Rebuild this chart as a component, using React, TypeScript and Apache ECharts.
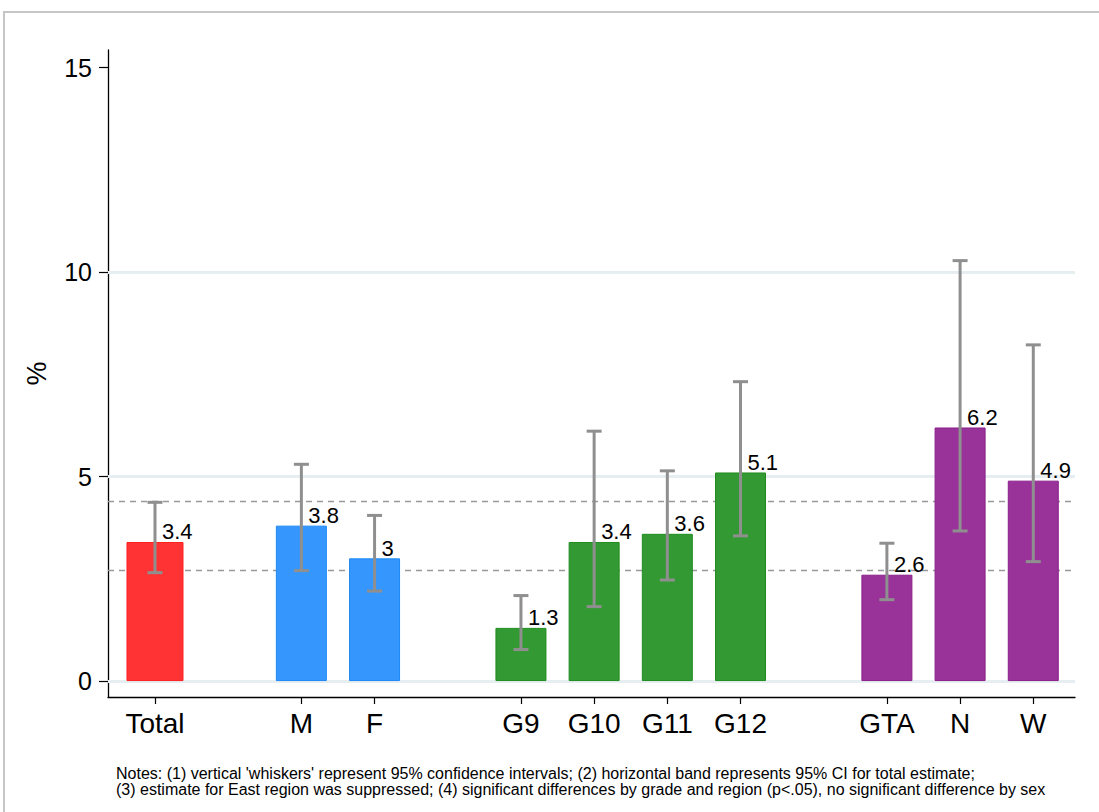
import React, { useEffect, useRef } from 'react';
import * as echarts from 'echarts';

// Slots along the x axis (blank entries are the gaps between groups)
const categories = ['Total', '', 'M', 'F', '', 'G9', 'G10', 'G11', 'G12', '', 'GTA', 'N', 'W'];
const groups = ['total', '', 'sex', 'sex', '', 'grade', 'grade', 'grade', 'grade', '', 'region', 'region', 'region'];
const estimates = [3.4, null, 3.8, 3.0, null, 1.3, 3.4, 3.6, 5.1, null, 2.6, 6.2, 4.9];
const ciLow = [2.65, null, 2.7, 2.2, null, 0.77, 1.82, 2.47, 3.55, null, 1.99, 3.67, 2.92];
const ciHigh = [4.37, null, 5.3, 4.05, null, 2.09, 6.11, 5.14, 7.32, null, 3.37, 10.28, 8.22];
const totalBand = [2.7, 4.4];
const yTicks = [0, 5, 10, 15];
const yGridLines = [0, 5, 10];
const notes = [
  "Notes: (1) vertical 'whiskers' represent 95% confidence intervals; (2) horizontal band represents 95% CI for total estimate;",
  '(3) estimate for East region was suppressed; (4) significant differences by grade and region (p<.05), no significant difference by sex',
];

const FONT = "'Liberation Sans', Arial, Helvetica, sans-serif";
const fillColors: Record<string, string> = {
  total: '#ff3333',
  sex: '#3597fe',
  grade: '#339933',
  region: '#993399',
};
const borderColors: Record<string, string> = {
  total: '#ff1f1f',
  sex: '#1e88f5',
  grade: '#1f8c1f',
  region: '#8a1f8a',
};

export default function App() {
  const ref = useRef<HTMLDivElement>(null);

  useEffect(() => {
    if (!ref.current) return;
    const chart = echarts.init(ref.current, undefined, { renderer: 'svg' });

    const tickPositions: number[] = [];
    categories.forEach((c, i) => {
      if (c) tickPositions.push(i);
    });

    const mkBar = (i: number) => ({
      value: [i, estimates[i]],
      itemStyle: { color: fillColors[groups[i]], borderColor: borderColors[groups[i]], borderWidth: 1 },
    });

    const mainBars = categories
      .map((c, i) => (c && groups[i] !== 'total' ? mkBar(i) : null))
      .filter((d) => d !== null);
    const totalBars = categories
      .map((c, i) => (c && groups[i] === 'total' ? mkBar(i) : null))
      .filter((d) => d !== null);

    const whiskers = categories
      .map((c, i) => (c && ciLow[i] != null ? [i, ciLow[i], ciHigh[i]] : null))
      .filter((d) => d !== null);

    const barLabel = {
      show: true,
      position: ['50%', 0],
      align: 'left',
      verticalAlign: 'bottom',
      offset: [7, 1],
      fontSize: 22,
      fontFamily: FONT,
      color: '#000',
      formatter: (p: any) => String(p.value[1]),
    };

    const xMin = -0.642;
    const xMax = 12.57;

    const option: any = {
      animation: false,
      backgroundColor: '#fff',
      textStyle: { fontFamily: FONT },
      grid: { left: 108, top: 50, width: 967, height: 647, containLabel: false },
      xAxis: [
        {
          type: 'value',
          min: xMin,
          max: xMax,
          axisLine: { show: true, onZero: false, lineStyle: { color: '#000', width: 1.3 } },
          axisTick: {
            show: true,
            length: 7,
            customValues: tickPositions,
            lineStyle: { color: '#000', width: 1.2 },
          },
          axisLabel: {
            show: true,
            customValues: tickPositions,
            margin: 12,
            fontSize: 28,
            fontFamily: FONT,
            color: '#000',
            formatter: (v: number) => categories[Math.round(v)] || '',
          },
          splitLine: { show: false },
        },
        {
          type: 'value',
          min: xMin,
          max: xMax,
          show: false,
        },
      ],
      yAxis: {
        type: 'value',
        min: -0.39,
        max: 15.43,
        name: '%',
        nameLocation: 'middle',
        nameRotate: 90,
        nameGap: 58,
        nameTextStyle: { fontSize: 27, fontFamily: FONT, color: '#000' },
        axisLine: { show: true, onZero: false, lineStyle: { color: '#000', width: 1.3 } },
        axisTick: {
          show: true,
          length: 9,
          customValues: yTicks,
          lineStyle: { color: '#000', width: 1.2 },
        },
        axisLabel: {
          show: true,
          customValues: yTicks,
          margin: 16,
          fontSize: 25,
          fontFamily: FONT,
          color: '#000',
        },
        splitLine: { show: false },
      },
      graphic: [
        {
          type: 'rect',
          silent: true,
          z: -10,
          shape: { x: 4, y: 12, width: 1300, height: 1000 },
          style: { fill: 'none', stroke: '#c6c6c6', lineWidth: 2 },
        },
        {
          type: 'text',
          x: 116,
          y: 765,
          silent: true,
          style: {
            text: notes.join('\n'),
            fill: '#000',
            fontSize: 16,
            lineHeight: 16.5,
            fontFamily: FONT,
          },
        },
      ],
      series: [
        {
          name: 'bars',
          type: 'bar',
          xAxisIndex: 0,
          barWidth: 51,
          z: 2,
          data: mainBars,
          label: barLabel,
          markLine: {
            silent: true,
            symbol: 'none',
            z: 1,
            label: { show: false },
            data: [
              ...yGridLines.map((v) => ({
                yAxis: v,
                lineStyle: { color: '#e7eef1', width: 3, type: 'solid' },
              })),
              ...totalBand.map((v) => ({
                yAxis: v,
                lineStyle: { color: '#999999', width: 1.4, type: [6, 5] },
              })),
            ],
          },
        },
        {
          name: 'total',
          type: 'bar',
          xAxisIndex: 1,
          barWidth: 57,
          z: 2,
          data: totalBars,
          label: barLabel,
        },
        {
          name: 'ci',
          type: 'custom',
          xAxisIndex: 0,
          z: 3,
          encode: { x: 0, y: [1, 2] },
          data: whiskers,
          renderItem: (params: any, api: any) => {
            const x = api.value(0);
            const lo = api.coord([x, api.value(1)]);
            const hi = api.coord([x, api.value(2)]);
            const cap = 7.5;
            const style = { stroke: '#8f8f8f', lineWidth: 3 };
            return {
              type: 'group',
              children: [
                { type: 'line', shape: { x1: lo[0], y1: lo[1], x2: hi[0], y2: hi[1] }, style },
                { type: 'line', shape: { x1: lo[0] - cap, y1: lo[1], x2: lo[0] + cap, y2: lo[1] }, style },
                { type: 'line', shape: { x1: hi[0] - cap, y1: hi[1], x2: hi[0] + cap, y2: hi[1] }, style },
              ],
            };
          },
        },
      ],
    };

    chart.setOption(option);
    return () => chart.dispose();
  }, []);

  return (
    <div
      ref={ref}
      style={{ position: 'fixed', left: 0, top: 0, width: 1099, height: 812, background: '#fff' }}
    />
  );
}
